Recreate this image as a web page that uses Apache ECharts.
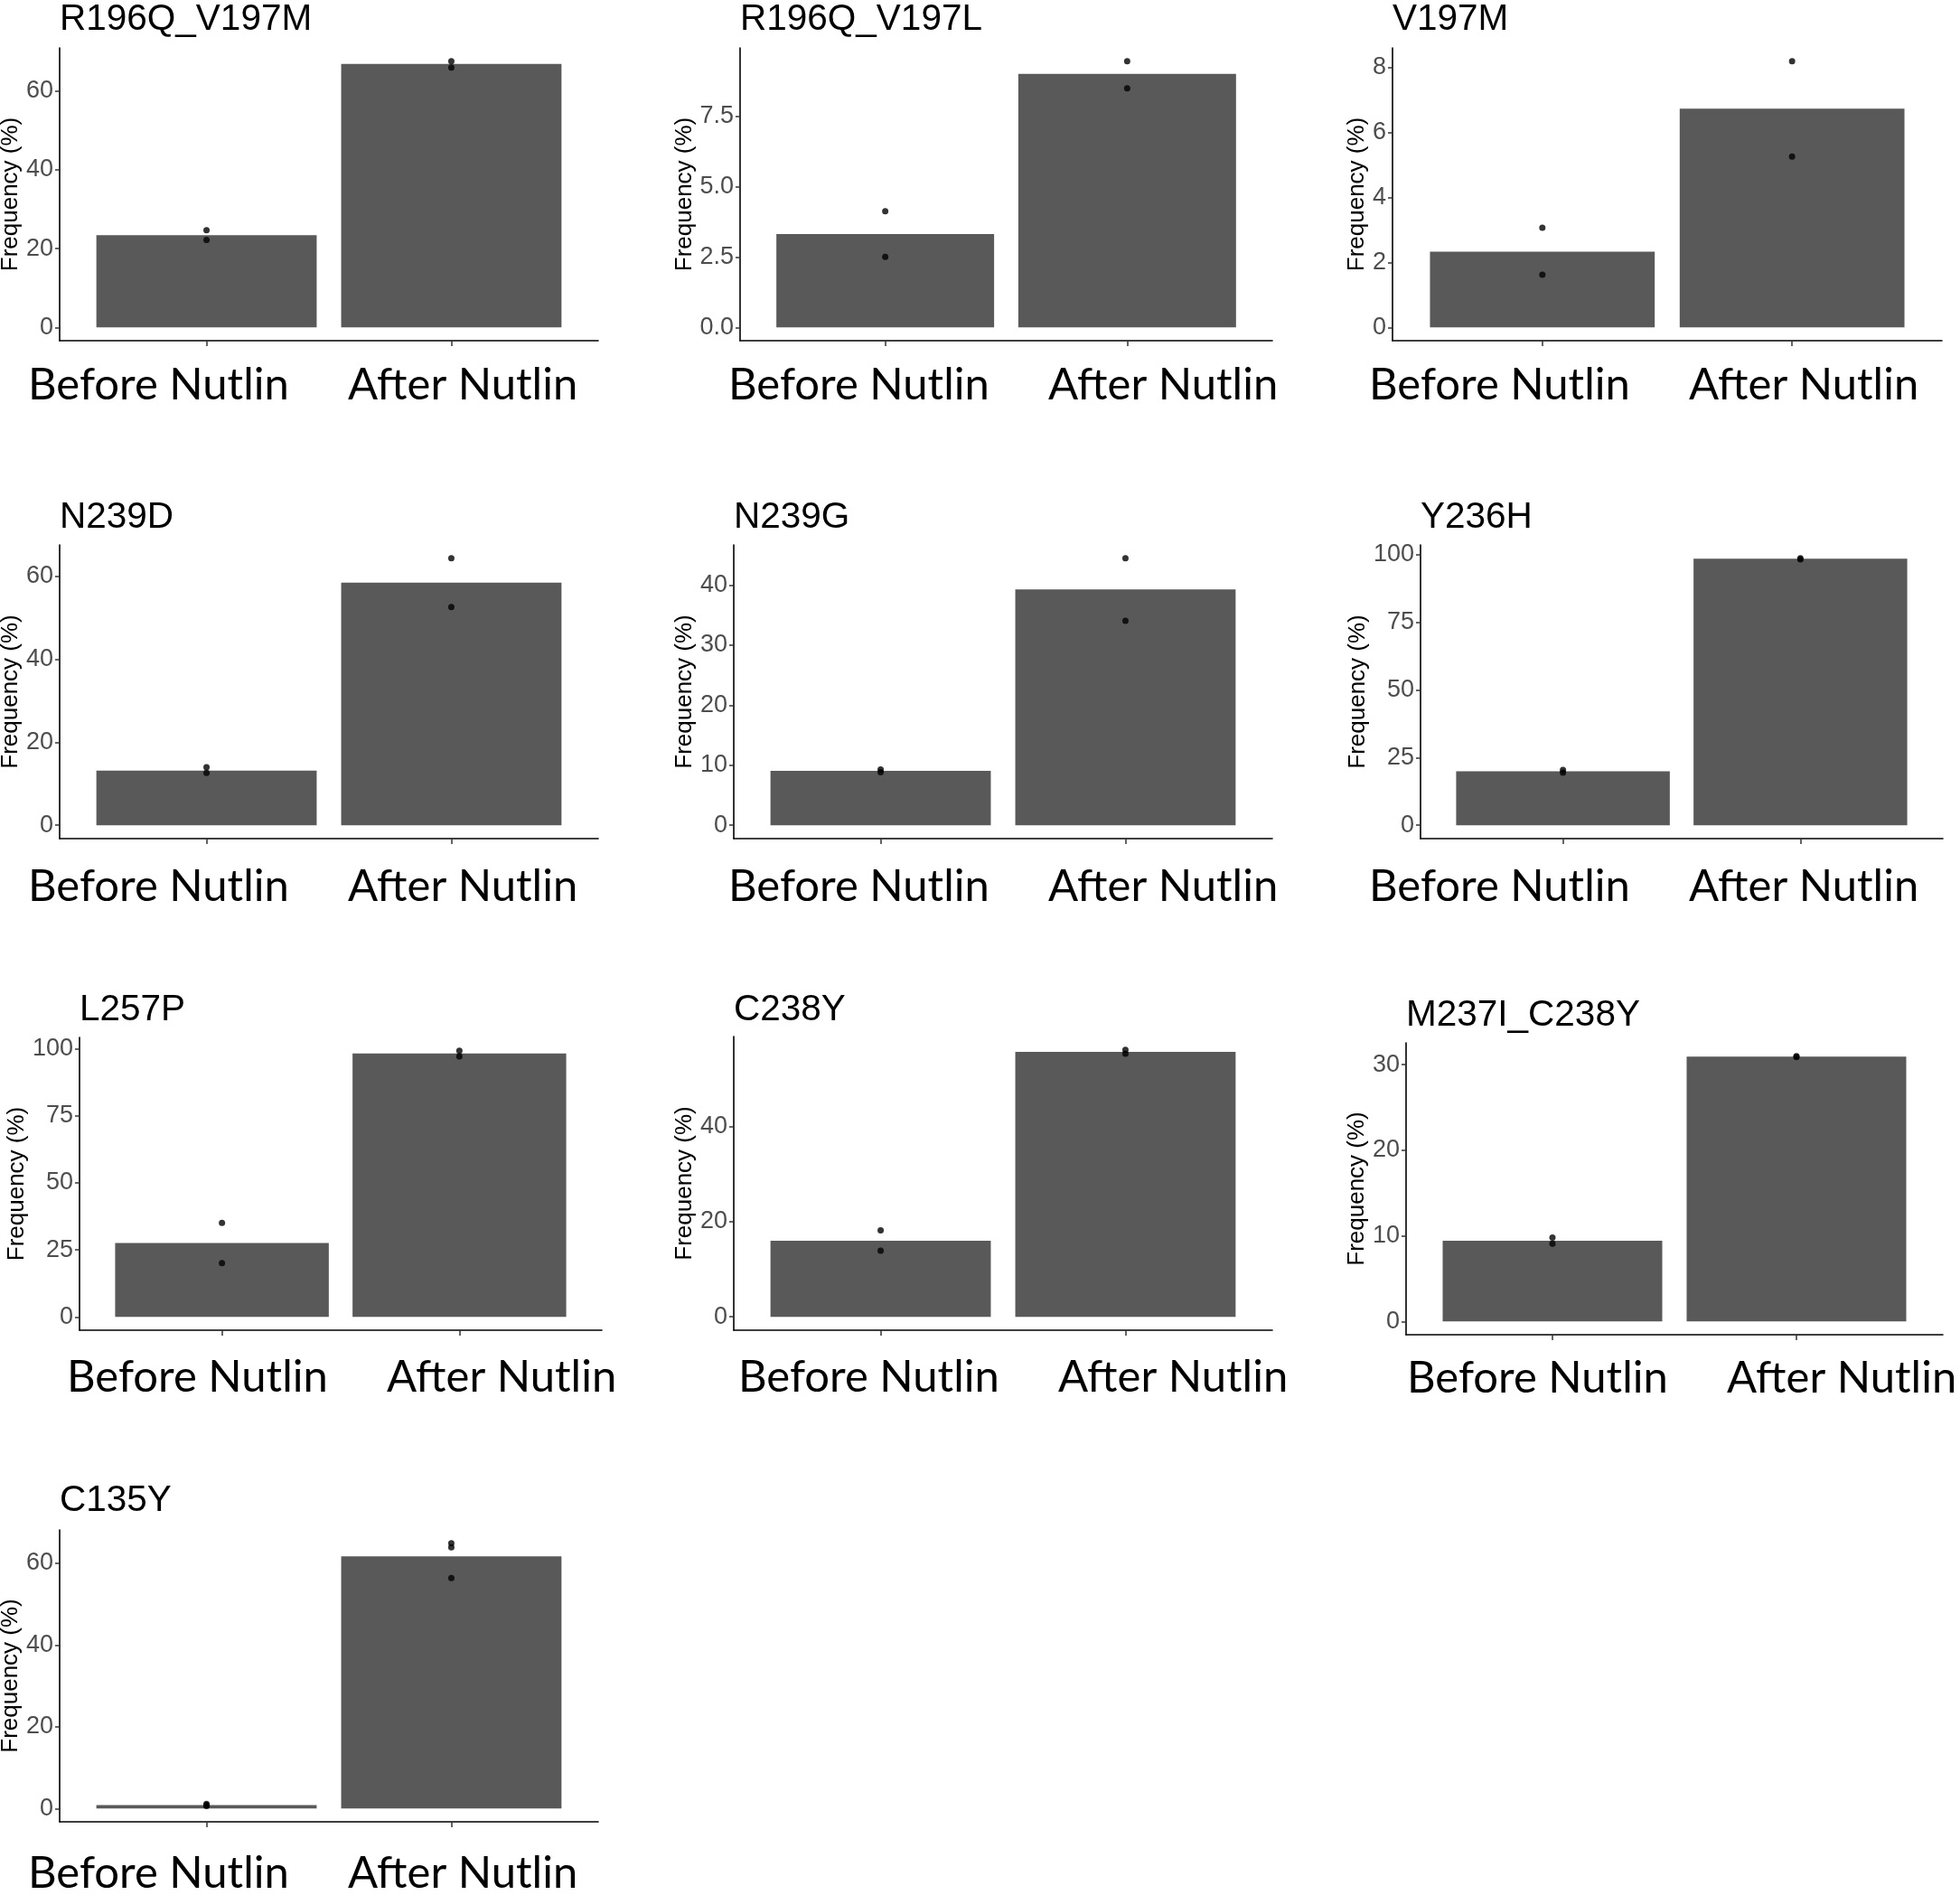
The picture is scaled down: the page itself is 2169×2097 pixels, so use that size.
<!DOCTYPE html>
<html>
<head>
<meta charset="utf-8">
<title>Frequency before and after Nutlin</title>
<script src="https://cdn.jsdelivr.net/npm/echarts@6.0.0/dist/echarts.min.js"></script>
<style>
  html, body { margin: 0; padding: 0; background: #fff; }
  #chart { width: 2169px; height: 2097px; }
</style>
</head>
<body>
<div id="chart"></div>
<script>
(function() {
  // --- data ---
  var mutations = ['R196Q_V197M', 'R196Q_V197L', 'V197M', 'N239D', 'N239G', 'Y236H', 'L257P', 'C238Y', 'M237I_C238Y', 'C135Y'];
  var conditions = ['Before Nutlin', 'After Nutlin'];
  var beforeMean = [23.4, 3.31, 2.33, 13.2, 9.06, 19.9, 27.6, 16.0, 9.43, 0.85];
  var afterMean = [66.9, 9.0, 6.74, 58.5, 39.3, 98.4, 98.25, 55.7, 30.95, 61.7];
  var beforeReps = [[24.7, 22.2], [4.12, 2.5], [3.07, 1.62], [14.0, 12.65], [9.3, 8.85], [20.4, 19.4], [35.1, 20.1], [18.2, 13.9], [9.79, 9.08], [1.1, 0.85, 0.6]];
  var afterReps = [[67.6, 66.0], [9.45, 8.49], [8.2, 5.26], [64.4, 52.65], [44.5, 34.06], [98.6, 98.2], [99.3, 97.2], [56.1, 55.3], [31.0, 30.9], [64.9, 63.9, 56.4]];
  var yTicks = [[0, 20, 40, 60], [0, 2.5, 5, 7.5], [0, 2, 4, 6, 8], [0, 20, 40, 60], [0, 10, 20, 30, 40],
                [0, 25, 50, 75, 100], [0, 25, 50, 75, 100], [0, 20, 40], [0, 10, 20, 30], [0, 20, 40, 60]];
  var yTickLabels = [['0', '20', '40', '60'], ['0.0', '2.5', '5.0', '7.5'], ['0', '2', '4', '6', '8'], ['0', '20', '40', '60'], ['0', '10', '20', '30', '40'],
                     ['0', '25', '50', '75', '100'], ['0', '25', '50', '75', '100'], ['0', '20', '40'], ['0', '10', '20', '30'], ['0', '20', '40', '60']];

  // --- panel layout in px ---
  var panelLeft = [66, 819, 1541, 66, 812, 1572, 88, 812, 1556, 66];
  var panelRight = [662, 1408, 2149, 662, 1408, 2150, 666, 1408, 2150, 662];
  var panelTop = [53, 53, 53, 603, 603, 603, 1148, 1147, 1154, 1693];
  var panelBottom = [377, 377, 377, 928, 928, 928, 1472, 1472, 1477, 2016];
  var yNameGap = [41, 47, 26, 41, 39, 54, 53, 39, 38, 41];
  var titleBase = [36, 36, 36, 587, 587, 587, 1132, 1132, 1138, 1675];
  var labelLeft = [31, 806, 1515, 31, 806, 1515, 74, 817, 1557, 31];
  var labelBase = [445, 445, 445, 1000, 1000, 1000, 1543, 1543, 1544, 2092];
  var labelStep = 354;

  var sans = '"Liberation Sans", Arial, sans-serif';
  var grids = [], xAxes = [], yAxes = [], series = [], texts = [];

  mutations.forEach(function(name, i) {
    var all = [beforeMean[i], afterMean[i]].concat(beforeReps[i], afterReps[i]);
    var top = Math.max.apply(null, all);
    var pad = top * 0.05;
    var ticks = yTicks[i], tickText = yTickLabels[i];

    grids.push({
      left: panelLeft[i], top: panelTop[i],
      width: panelRight[i] - panelLeft[i], height: panelBottom[i] - panelTop[i],
      containLabel: false, outerBoundsMode: 'none'
    });
    xAxes.push({
      gridIndex: i, type: 'value', min: 0.4, max: 2.6,
      axisLine: { onZero: false, lineStyle: { color: '#000', width: 1.6 } },
      axisTick: { customValues: [1, 2], length: 6, lineStyle: { color: '#333', width: 1.5 } },
      axisLabel: { show: false },
      splitLine: { show: false }
    });
    yAxes.push({
      gridIndex: i, type: 'value', min: -pad, max: top + pad,
      name: 'Frequency (%)', nameLocation: 'middle', nameGap: yNameGap[i],
      nameTextStyle: { color: '#000', fontSize: 26, fontFamily: sans },
      axisLine: { show: true, onZero: false, lineStyle: { color: '#000', width: 1.6 } },
      axisTick: { show: true, customValues: ticks, length: 5, lineStyle: { color: '#333', width: 1.5 } },
      axisLabel: {
        customValues: ticks, margin: 7, color: '#4d4d4d', fontSize: 27, fontFamily: sans,
        formatter: function(v) {
          var k = ticks.indexOf(v);
          return k >= 0 ? tickText[k] : '';
        }
      },
      splitLine: { show: false }
    });
    series.push({
      type: 'bar', xAxisIndex: i, yAxisIndex: i, barWidth: '90%', silent: true,
      data: [[1, beforeMean[i]], [2, afterMean[i]]],
      itemStyle: { color: '#595959' }
    });
    series.push({
      type: 'scatter', xAxisIndex: i, yAxisIndex: i, symbolSize: 7, silent: true, z: 3,
      data: beforeReps[i].map(function(v) { return [1, v]; })
        .concat(afterReps[i].map(function(v) { return [2, v]; })),
      itemStyle: { color: '#000' }
    });

    texts.push({
      type: 'text', x: panelLeft[i], y: titleBase[i] - 14,
      style: { text: name, fill: '#000', font: '40.5px ' + sans, align: 'left', verticalAlign: 'middle' }
    });
    conditions.forEach(function(c, j) {
      texts.push({
        type: 'text', x: labelLeft[i] + j * labelStep, y: labelBase[i] - 19,
        style: { text: c, fill: '#000', font: '49px Lato, "Open Sans", sans-serif', align: 'left', verticalAlign: 'middle' }
      });
    });
  });

  var chart = echarts.init(document.getElementById('chart'), null, { renderer: 'canvas' });
  chart.setOption({
    animation: false,
    backgroundColor: '#fff',
    grid: grids,
    xAxis: xAxes,
    yAxis: yAxes,
    series: series,
    graphic: { elements: texts }
  });
  window.addEventListener('resize', function() { chart.resize(); });
})();
</script>
</body>
</html>
